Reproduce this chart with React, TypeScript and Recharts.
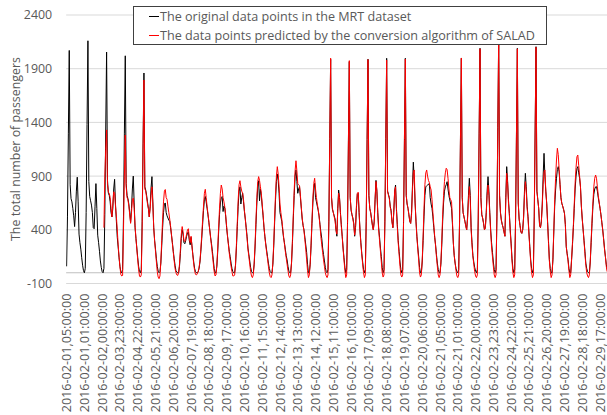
import {
  LineChart,
  Line,
  XAxis,
  YAxis,
  CartesianGrid,
  ReferenceLine,
} from "recharts";

const FONT = "'Open Sans', sans-serif";
const TEXT = "#595959";

// Hourly passenger counts, service hours 05:00 .. 01:00 (21 slots a day)
const original = [
  60, 520, 1300, 2070, 820, 690, 660, 600, 530, 430, 560, 760, 890, 660, 360, 280, 220, 140, 70, 20, 0, // 02-01
  40, 560, 1380, 2160, 850, 710, 670, 630, 560, 420, 410, 620, 830, 600, 350, 280, 200, 110, 50, 10, 0, // 02-02
  40, 540, 1320, 2055, 860, 740, 720, 660, 560, 520, 600, 780, 870, 640, 480, 330, 240, 140, 60, 10, 0, // 02-03
  30, 520, 1300, 2020, 830, 720, 690, 640, 560, 470, 600, 780, 900, 650, 420, 320, 230, 140, 60, 10, 0, // 02-04
  30, 480, 1200, 1860, 800, 770, 720, 660, 600, 520, 620, 790, 895, 660, 420, 300, 220, 130, 60, 15, 0, // 02-05
  10, 90, 250, 420, 560, 640, 650, 560, 530, 510, 490, 480, 420, 350, 280, 200, 130, 70, 20, 5, 0, // 02-06
  0, 60, 180, 320, 400, 360, 280, 270, 300, 340, 370, 380, 300, 260, 330, 250, 170, 100, 40, 10, 0, // 02-07
  0, 10, 40, 100, 200, 320, 450, 580, 680, 710, 660, 600, 540, 470, 400, 330, 270, 200, 120, 40, 0, // 02-08
  0, 60, 200, 380, 540, 650, 700, 710, 570, 620, 600, 520, 420, 340, 270, 200, 150, 90, 40, 10, 0, // 02-09
  0, 70, 230, 430, 620, 760, 800, 640, 700, 740, 660, 570, 500, 420, 340, 230, 170, 110, 50, 10, 0, // 02-10
  0, 80, 240, 450, 650, 800, 857, 670, 780, 720, 620, 530, 420, 340, 270, 210, 150, 90, 40, 10, 0, // 02-11
  0, 80, 250, 470, 680, 850, 920, 860, 740, 560, 520, 480, 400, 330, 280, 220, 160, 120, 60, 15, 0, // 02-12
  0, 90, 270, 500, 720, 900, 957, 850, 740, 780, 800, 700, 600, 500, 440, 400, 330, 260, 190, 80, 0, // 02-13
  0, 80, 250, 460, 650, 790, 833, 700, 660, 620, 580, 530, 450, 380, 320, 230, 170, 110, 50, 10, 0, // 02-14
  30, 480, 1250, 1988, 700, 590, 560, 530, 500, 400, 340, 600, 770, 700, 560, 450, 340, 230, 140, 50, 0, // 02-15
  30, 470, 1230, 1966, 700, 580, 540, 510, 460, 340, 420, 600, 730, 740, 560, 400, 280, 180, 100, 30, 0, // 02-16
  30, 480, 1240, 1988, 720, 600, 560, 500, 440, 400, 480, 680, 860, 760, 560, 420, 330, 230, 150, 50, 0, // 02-17
  30, 480, 1250, 1997, 760, 730, 700, 620, 580, 480, 420, 560, 760, 817, 600, 450, 300, 200, 100, 30, 0, // 02-18
  30, 480, 1250, 1997, 720, 640, 600, 540, 480, 460, 560, 800, 1030, 870, 650, 480, 340, 240, 150, 50, 0, // 02-19
  0, 100, 300, 520, 720, 800, 810, 817, 820, 833, 700, 640, 600, 520, 420, 330, 260, 170, 90, 30, 0, // 02-20
  0, 80, 260, 480, 650, 760, 800, 820, 848, 780, 720, 678, 640, 600, 450, 276, 160, 90, 40, 10, 0, // 02-21
  30, 480, 1250, 1997, 700, 560, 520, 480, 440, 400, 520, 720, 880, 720, 420, 280, 160, 100, 50, 15, 0, // 02-22
  30, 500, 1300, 2090, 700, 540, 507, 460, 400, 420, 560, 760, 895, 760, 560, 400, 280, 190, 100, 30, 0, // 02-23
  30, 520, 1350, 2200, 720, 560, 490, 450, 420, 380, 340, 700, 988, 860, 680, 553, 400, 276, 130, 40, 0, // 02-24
  30, 500, 1300, 2090, 650, 500, 440, 380, 367, 400, 520, 760, 926, 800, 620, 522, 380, 243, 120, 40, 0, // 02-25
  30, 520, 1320, 2105, 760, 680, 600, 440, 420, 480, 640, 900, 1112, 900, 760, 647, 480, 300, 124, 40, 0, // 02-26
  0, 120, 380, 620, 770, 880, 960, 988, 940, 820, 700, 647, 620, 590, 553, 450, 243, 180, 124, 40, 0, // 02-27
  0, 120, 260, 420, 600, 780, 900, 970, 988, 930, 880, 800, 620, 500, 400, 300, 200, 90, 40, 10, 0, // 02-28
  0, 100, 280, 460, 620, 730, 780, 800, 802, 760, 700, 650, 600, 540, 470, 400, 320, 230, 152, 80, 30, // 02-29
];

// SALAD predictions start on 2016-02-03 05:00 (slot 42)
const PREDICTED_START = 42;
const predicted = [
  420, 900, 1150, 1330, 820, 750, 740, 700, 600, 520, 640, 754, 740, 620, 522, 400, 260, 150, 55, -16, -30, // 02-03
  -25, 400, 900, 1283, 800, 700, 680, 620, 540, 460, 560, 680, 695, 600, 440, 320, 220, 120, 30, -30, -40, // 02-04
  -20, 420, 1150, 1795, 780, 760, 700, 640, 600, 520, 600, 720, 800, 640, 420, 300, 200, 100, 10, -40, -55, // 02-05
  -30, 100, 300, 500, 660, 760, 775, 700, 683, 620, 560, 500, 430, 350, 270, 190, 110, 40, 0, -20, -25, // 02-06
  0, 80, 220, 360, 430, 380, 300, 290, 320, 360, 400, 410, 320, 280, 340, 250, 160, 80, 20, -15, -20, // 02-07
  -10, 10, 50, 110, 220, 350, 490, 620, 740, 777, 700, 620, 550, 480, 400, 320, 250, 170, 90, 10, -30, // 02-08
  -20, 70, 230, 420, 600, 740, 817, 780, 700, 660, 610, 530, 430, 340, 260, 180, 120, 60, 10, -30, -30, // 02-09
  -20, 80, 260, 470, 680, 820, 857, 800, 760, 740, 680, 580, 500, 410, 320, 220, 150, 80, 10, -30, -45, // 02-10
  -20, 90, 270, 490, 700, 850, 895, 860, 800, 740, 640, 540, 430, 340, 260, 190, 130, 60, 0, -35, -45, // 02-11
  -20, 90, 280, 510, 730, 900, 988, 920, 800, 640, 560, 500, 420, 340, 270, 200, 140, 80, 20, -30, -45, // 02-12
  -20, 100, 300, 540, 770, 950, 1043, 950, 830, 820, 810, 720, 610, 510, 440, 390, 310, 220, 120, 20, -45, // 02-13
  -20, 90, 270, 490, 690, 830, 880, 780, 700, 640, 590, 522, 440, 336, 260, 190, 120, 60, 0, -30, -45, // 02-14
  -20, 470, 1250, 1998, 700, 600, 560, 520, 480, 400, 360, 580, 740, 690, 553, 430, 336, 220, 120, 20, -45, // 02-15
  -20, 460, 1230, 1975, 700, 590, 540, 500, 450, 350, 430, 620, 740, 750, 560, 390, 270, 170, 80, 0, -45, // 02-16
  -20, 470, 1240, 1985, 720, 600, 560, 500, 440, 400, 470, 690, 850, 760, 550, 400, 300, 200, 100, 0, -40, // 02-17
  -20, 470, 1240, 1980, 760, 720, 690, 610, 570, 470, 420, 570, 760, 800, 580, 420, 276, 170, 60, -20, -40, // 02-18
  -20, 470, 1240, 1990, 720, 640, 600, 540, 480, 460, 540, 760, 930, 957, 647, 470, 336, 220, 120, 0, -40, // 02-19
  -20, 120, 340, 600, 820, 930, 957, 900, 860, 840, 800, 770, 680, 560, 450, 340, 250, 150, 60, -20, -45, // 02-20
  -20, 100, 300, 540, 720, 850, 930, 973, 960, 880, 780, 700, 680, 662, 480, 276, 160, 90, 20, -30, -45, // 02-21
  -20, 480, 1250, 2000, 700, 560, 520, 480, 430, 400, 500, 680, 802, 680, 400, 260, 152, 80, 10, -30, -45, // 02-22
  -20, 500, 1300, 2085, 700, 540, 510, 460, 400, 420, 550, 720, 817, 720, 540, 380, 240, 150, 60, -20, -45, // 02-23
  -20, 520, 1350, 2190, 720, 560, 490, 450, 420, 380, 340, 680, 926, 840, 650, 540, 380, 260, 110, 0, -45, // 02-24
  -20, 500, 1300, 2085, 650, 500, 440, 380, 367, 400, 510, 720, 848, 760, 600, 510, 360, 230, 100, 0, -45, // 02-25
  -20, 520, 1320, 2100, 760, 680, 600, 440, 420, 480, 620, 820, 940, 957, 760, 647, 460, 280, 110, 10, -45, // 02-26
  -20, 140, 400, 680, 880, 1050, 1159, 1100, 960, 820, 700, 647, 620, 590, 553, 440, 243, 170, 110, 20, -45, // 02-27
  -20, 130, 280, 440, 640, 840, 980, 1080, 1096, 1000, 900, 800, 620, 500, 400, 290, 180, 70, 0, -30, -45, // 02-28
  -20, 110, 300, 490, 660, 800, 880, 910, 880, 800, 720, 660, 600, 540, 470, 400, 310, 220, 152, 60, 10, // 02-29
];

// one label every 20 slots
const TICK_STEP = 20;
const tickLabels = [
  "2016-02-01,05:00:00", "2016-02-01,01:00:00", "2016-02-02,00:00:00",
  "2016-02-03,23:00:00", "2016-02-04,22:00:00", "2016-02-05,21:00:00",
  "2016-02-06,20:00:00", "2016-02-07,19:00:00", "2016-02-08,18:00:00",
  "2016-02-09,17:00:00", "2016-02-10,16:00:00", "2016-02-11,15:00:00",
  "2016-02-12,14:00:00", "2016-02-13,13:00:00", "2016-02-14,12:00:00",
  "2016-02-15,11:00:00", "2016-02-16,10:00:00", "2016-02-17,09:00:00",
  "2016-02-18,08:00:00", "2016-02-19,07:00:00", "2016-02-20,06:00:00",
  "2016-02-21,05:00:00", "2016-02-21,01:00:00", "2016-02-22,00:00:00",
  "2016-02-23,23:00:00", "2016-02-24,22:00:00", "2016-02-25,21:00:00",
  "2016-02-26,20:00:00", "2016-02-27,19:00:00", "2016-02-28,18:00:00",
  "2016-02-29,17:00:00",
];

const yTicks = [-100, 400, 900, 1400, 1900, 2400];

const data = original.map((v, i) => ({
  i,
  original: v,
  predicted: i >= PREDICTED_START ? predicted[i - PREDICTED_START] : null,
}));

const xTicks = tickLabels.map((_, k) => k * TICK_STEP);

function DateTick({ x, y, payload }: any) {
  const label = tickLabels[Math.round(payload.value / TICK_STEP)];
  return (
    <text
      x={x}
      y={y}
      transform={`rotate(-90 ${x} ${y})`}
      textAnchor="end"
      dy="0.36em"
      fill={TEXT}
      fontSize={12.6}
      fontFamily={FONT}
    >
      {label}
    </text>
  );
}

function LegendBox() {
  const rows = [
    { label: "The original data points in the MRT dataset", color: "#000000", top: 6.5 },
    { label: "The data points predicted by the conversion algorithm of SALAD", color: "#ff0000", top: 25.5 },
  ];
  return (
    <>
      <div
        style={{
          position: "absolute",
          left: 133,
          top: 6,
          width: 414,
          height: 39,
          boxSizing: "border-box",
          border: "1px solid #404040",
          background: "#ffffff",
        }}
      />
      {rows.map((r) => (
        <div
          key={r.label}
          style={{
            position: "absolute",
            left: 149,
            top: r.top,
            height: 19,
            display: "flex",
            alignItems: "center",
            whiteSpace: "nowrap",
            fontFamily: FONT,
            fontSize: 12.6,
            color: TEXT,
          }}
        >
          <span style={{ width: 10, height: 1, background: r.color, marginRight: 1 }} />
          {r.label}
        </div>
      ))}
    </>
  );
}

export default function App() {
  return (
    <div
      style={{
        position: "absolute",
        left: 0,
        top: 0,
        width: 607,
        height: 415,
        overflow: "hidden",
        background: "#ffffff",
      }}
    >
      <LineChart
        width={608}
        height={415}
        data={data}
        margin={{ top: 15, right: 0.4, bottom: 0, left: 0.15 }}
      >
        <CartesianGrid vertical={false} stroke="#d9d9d9" />
        <XAxis
          dataKey="i"
          type="number"
          domain={[-0.5, 608.5]}
          ticks={xTicks}
          interval={0}
          tick={<DateTick />}
          axisLine={false}
          tickLine={false}
          tickSize={0}
          tickMargin={10}
          height={131.5}
          allowDataOverflow
        />
        <YAxis
          type="number"
          domain={[-100, 2400]}
          ticks={yTicks}
          interval={0}
          width={66}
          axisLine={false}
          tickLine={false}
          tickSize={6}
          tickMargin={8}
          tick={{ fill: TEXT, fontSize: 12.4, fontFamily: FONT }}
        />
        <ReferenceLine y={0} stroke="#bfbfbf" strokeWidth={1} />
        <Line
          dataKey="original"
          stroke="#000000"
          strokeWidth={1}
          dot={false}
          activeDot={false}
          isAnimationActive={false}
        />
        <Line
          dataKey="predicted"
          stroke="#ff0000"
          strokeWidth={1}
          dot={false}
          activeDot={false}
          isAnimationActive={false}
        />
      </LineChart>
      <svg
        width={40}
        height={415}
        style={{ position: "absolute", left: 0, top: 0 }}
      >
        <text
          x={15}
          y={149}
          transform="rotate(-90 15 149)"
          textAnchor="middle"
          dominantBaseline="central"
          fill={TEXT}
          fontSize={12.4}
          fontFamily={FONT}
        >
          The total number of passengers
        </text>
      </svg>
      <LegendBox />
    </div>
  );
}
